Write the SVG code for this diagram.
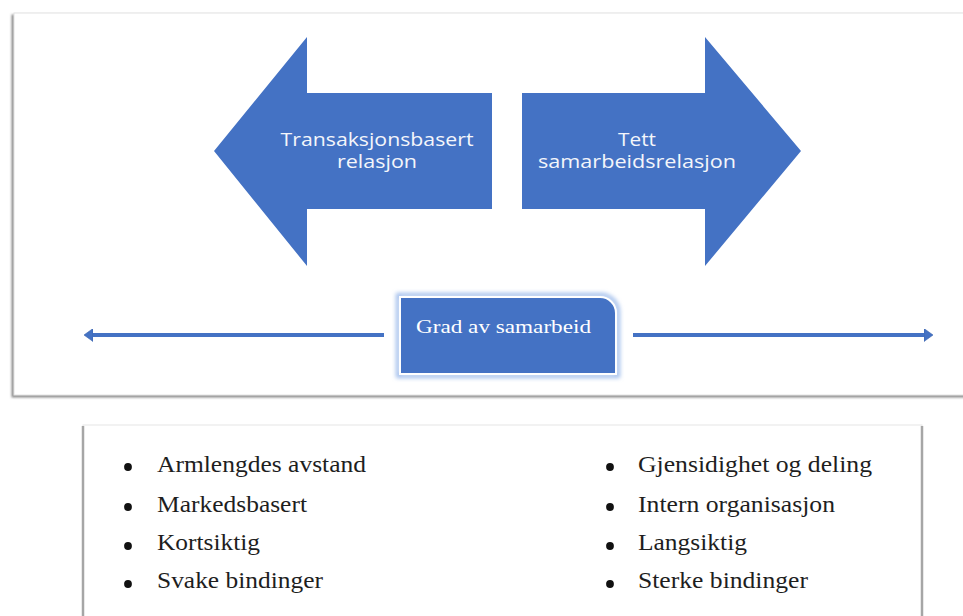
<svg xmlns="http://www.w3.org/2000/svg" width="963" height="616" viewBox="0 0 963 616">
  <style>
    .blue { fill: #4472C4; }
    .arrow-label { font-family: "Open Sans", "Noto Sans", "Liberation Sans", sans-serif; font-size: 17.5px; fill: #F4F6FB; text-anchor: middle; }
    .box-label { font-family: "Liberation Serif", "Times New Roman", serif; font-size: 19px; fill: #FFFFFF; }
    .item { font-family: "Liberation Serif", "Times New Roman", serif; font-size: 23px; fill: #1E1E1E; }
    .dot { fill: #111111; }
    .axis { stroke: #4472C4; stroke-width: 4; fill: none; }
  </style>
  <defs>
    <filter id="panelShadow" x="-5%" y="-5%" width="110%" height="115%">
      <feDropShadow dx="-2" dy="2" stdDeviation="1.2" flood-color="#7f7f7f" flood-opacity="0.9"/>
    </filter>
    <filter id="glow" x="-10%" y="-20%" width="120%" height="140%">
      <feGaussianBlur stdDeviation="2"/>
    </filter>
    <marker id="axisHead" viewBox="0 0 9 13" refX="0" refY="6.5" markerWidth="9" markerHeight="13" markerUnits="userSpaceOnUse" orient="auto">
      <path d="M0,0 L9,6.5 L0,13 Z" fill="#4472C4" stroke="#3B63AD" stroke-width="0.6"/>
    </marker>
  </defs>

  <rect width="963" height="616" fill="#FFFFFF"/>

  <!-- upper panel -->
  <g id="upper-panel">
    <rect x="14" y="13" width="960" height="382" fill="#FFFFFF" stroke="#E2E2E2" stroke-width="1" filter="url(#panelShadow)"/>
  </g>

  <!-- left block arrow -->
  <g id="node-transaksjon">
    <path class="blue" d="M214,151 L307,37 L307,93 L492,93 L492,209 L307,209 L307,266 Z"/>
    <text class="arrow-label" x="377" y="146" textLength="193" lengthAdjust="spacingAndGlyphs">Transaksjonsbasert</text>
    <text class="arrow-label" x="377" y="168" textLength="80" lengthAdjust="spacingAndGlyphs">relasjon</text>
  </g>

  <!-- right block arrow -->
  <g id="node-samarbeid">
    <path class="blue" d="M522,93 L705,93 L705,37 L801,151 L705,266 L705,209 L522,209 Z"/>
    <text class="arrow-label" x="637" y="146" textLength="38" lengthAdjust="spacingAndGlyphs">Tett</text>
    <text class="arrow-label" x="637" y="168" textLength="198" lengthAdjust="spacingAndGlyphs">samarbeidsrelasjon</text>
  </g>

  <!-- axis -->
  <g id="connectors">
    <line class="axis" x1="384" y1="335" x2="93" y2="335" marker-end="url(#axisHead)"/>
    <line class="axis" x1="633" y1="335" x2="924" y2="335" marker-end="url(#axisHead)"/>
  </g>

  <!-- centre label box -->
  <g id="node-grad">
    <path d="M398,295 H601 A17,17 0 0 1 618,312 V376 H398 Z" fill="none" stroke="#9DBBEB" stroke-width="4" filter="url(#glow)"/>
    <path d="M400,297 H600 A16,16 0 0 1 616,313 V374 H400 Z" fill="#4472C4" stroke="#FFFFFF" stroke-width="2"/>
    <text class="box-label" x="416" y="333" textLength="175" lengthAdjust="spacingAndGlyphs">Grad av samarbeid</text>
  </g>

  <!-- lower panel with two bullet lists -->
  <g id="node-list">
    <rect x="83" y="425" width="839" height="200" fill="#FFFFFF" stroke="#E6E6E6" stroke-width="1"/>
    <line x1="83" y1="426" x2="83" y2="616" stroke="#A6A6A6" stroke-width="2.5"/>
    <line x1="922" y1="426" x2="922" y2="616" stroke="#A6A6A6" stroke-width="2.5"/>

    <circle class="dot" cx="128" cy="467" r="3.9"/>
    <text class="item" x="157" y="472" textLength="209" lengthAdjust="spacingAndGlyphs">Armlengdes avstand</text>
    <circle class="dot" cx="128" cy="507" r="3.9"/>
    <text class="item" x="157" y="512" textLength="150" lengthAdjust="spacingAndGlyphs">Markedsbasert</text>
    <circle class="dot" cx="128" cy="546" r="3.9"/>
    <text class="item" x="157" y="550" textLength="103" lengthAdjust="spacingAndGlyphs">Kortsiktig</text>
    <circle class="dot" cx="128" cy="584" r="3.9"/>
    <text class="item" x="157" y="588" textLength="166" lengthAdjust="spacingAndGlyphs">Svake bindinger</text>

    <circle class="dot" cx="610" cy="467" r="3.9"/>
    <text class="item" x="638" y="472" textLength="234" lengthAdjust="spacingAndGlyphs">Gjensidighet og deling</text>
    <circle class="dot" cx="610" cy="507" r="3.9"/>
    <text class="item" x="638" y="512" textLength="197" lengthAdjust="spacingAndGlyphs">Intern organisasjon</text>
    <circle class="dot" cx="610" cy="546" r="3.9"/>
    <text class="item" x="638" y="550" textLength="109" lengthAdjust="spacingAndGlyphs">Langsiktig</text>
    <circle class="dot" cx="610" cy="584" r="3.9"/>
    <text class="item" x="638" y="588" textLength="170" lengthAdjust="spacingAndGlyphs">Sterke bindinger</text>
  </g>
</svg>
